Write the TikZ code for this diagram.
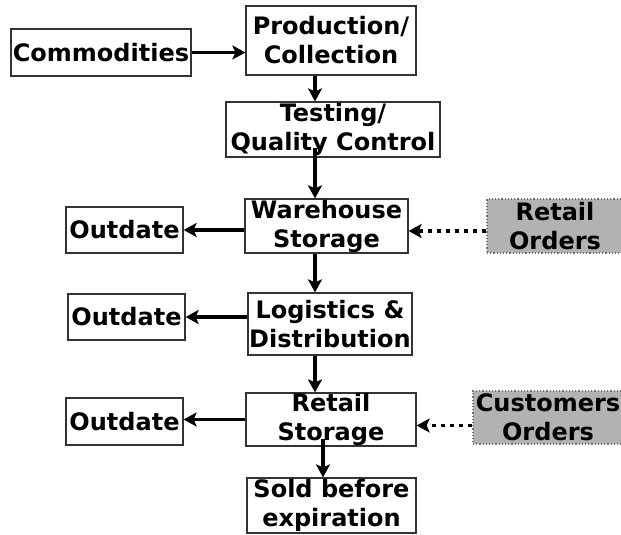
\documentclass[tikz,border=0pt]{standalone}
\usepackage{fontspec}
\setmainfont{DejaVu Sans}
\usetikzlibrary{arrows.meta}

\newcommand\boxFont{\fontsize{12}{14.5}\selectfont\bfseries}

\begin{document}
\begin{tikzpicture}[x=0.5pt,y=-0.5pt,
  box/.style={draw=lineGray, line width=0.6pt, fill=white, inner sep=0pt, align=center, font=\boxFont},
  orderbox/.style={box, fill=gray!60, draw=black!55, densely dotted},
  flow/.style={line width=1.6pt, -{Stealth[length=6.5pt,width=7pt,inset=1.5pt]}},
  orderflow/.style={flow, line width=1.8pt, dash pattern=on 2pt off 2.5pt}]

% Colori
\definecolor{lineGray}{HTML}{333333}

\useasboundingbox (0,0) rectangle (621,535);

% Asse delle frecce verticali
\coordinate (spine) at (315,0);
\coordinate (spineB) at (323,0);

% Catena principale
\node[box, minimum width=90pt, minimum height=23.5pt] (comm) at (101,52.5) {Commodities};
\node[box, minimum width=85pt, minimum height=34.5pt] (prod) at (331,40.5) {Production/\\Collection};
\node[box, minimum width=107pt, minimum height=27.5pt] (test) at (333,129.5) {Testing/\\Quality Control};
\node[box, minimum width=81.5pt, minimum height=27pt] (ware) at (326.5,226) {Warehouse\\Storage};
\node[box, minimum width=82pt, minimum height=31pt] (logi) at (330,324) {Logistics \&\\Distribution};
\node[box, minimum width=85pt, minimum height=26.5pt] (rsto) at (331,419.5) {Retail\\Storage};
\node[box, minimum width=84.5pt, minimum height=27.5pt] (sold) at (331.5,505.5) {Sold before\\expiration};

% Scarti
\node[box, minimum width=58.5pt, minimum height=23pt] (outA) at (124.5,230) {Outdate};
\node[box, minimum width=58.5pt, minimum height=23pt] (outB) at (126.5,317) {Outdate};
\node[box, minimum width=58.5pt, minimum height=23.5pt] (outC) at (124.5,421.5) {Outdate};

% Ordini
\node[orderbox, minimum width=68pt, minimum height=27pt] (rord) at (555,226) {Retail\\Orders};
\node[orderbox, minimum width=75pt, minimum height=26.5pt] (cord) at (548,417.5) {Customers\\Orders};

% Frecce
\draw[flow] (comm.east) -- (comm.east -| prod.west);
\draw[flow] (prod.south -| spine) -- (test.north -| spine);
\draw[flow] ([yshift=5pt]test.south -| spine) -- (ware.north -| spine);
\draw[flow] (ware.south -| spine) -- (logi.north -| spine);
\draw[flow] (logi.south -| spine) -- (rsto.north -| spine);
\draw[flow] ([yshift=4pt]rsto.south -| spineB) -- (sold.north -| spineB);

\draw[flow] (outA.east -| ware.west) -- (outA.east);
\draw[flow] (outB.east -| logi.west) -- (outB.east);
\draw[flow] (rsto.west) -- (rsto.west -| outC.east);

\draw[orderflow] ([yshift=-2.5pt]rord.west) -- ([yshift=-2.5pt]rord.west -| ware.east);
\draw[orderflow] ([yshift=-4pt]cord.west) -- ([yshift=-4pt]cord.west -| rsto.east);

\end{tikzpicture}
\end{document}
